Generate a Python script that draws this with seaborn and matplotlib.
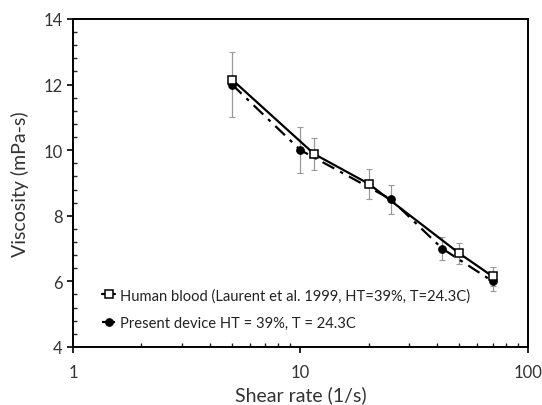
import matplotlib
matplotlib.use("Agg")
import matplotlib.pyplot as plt
import seaborn as sns
import numpy as np
import pandas as pd
from matplotlib.ticker import LogLocator, MultipleLocator, FixedLocator, FixedFormatter, NullFormatter

# Data
blood_rate = [5, 11.5, 20, 50, 70]
blood_visc = [12.15, 9.88, 8.97, 6.85, 6.15]
blood_err = [0.0, 0.5, 0.45, 0.33, 0.3]

device_rate = [5, 10, 25, 42, 70]
device_visc = [12.0, 10.0, 8.5, 7.0, 6.0]
device_err = [1.0, 0.7, 0.45, 0.35, 0.28]

blood_label = "Human blood (Laurent et al. 1999, HT=39%, T=24.3C)"
device_label = "Present device HT = 39%, T = 24.3C"

sns.set_style("white")
plt.rcParams['font.family'] = ['Lato', 'DejaVu Sans']

fig = plt.figure(figsize=(5.42, 4.06), dpi=100)
ax = fig.add_axes([0.1347, 0.1429, 0.974 - 0.1347, 0.951 - 0.1429])

# error bars
ax.errorbar(blood_rate, blood_visc, yerr=blood_err, fmt='none', ecolor='#999999',
            elinewidth=0.9, capsize=2, capthick=0.8, zorder=1)
ax.errorbar(device_rate, device_visc, yerr=device_err, fmt='none', ecolor='#999999',
            elinewidth=0.9, capsize=2, capthick=0.8, zorder=1)

dfb = pd.DataFrame({"rate": blood_rate, "visc": blood_visc})
dfd = pd.DataFrame({"rate": device_rate, "visc": device_visc})

sns.lineplot(data=dfb, x="rate", y="visc", ax=ax, color='black', linewidth=1.6,
             marker='s', markersize=5.5, markerfacecolor='white', markeredgecolor='black',
             markeredgewidth=1.1, label=blood_label, zorder=3)
sns.lineplot(data=dfd, x="rate", y="visc", ax=ax, color='black', linewidth=1.6,
             linestyle=(0, (6, 3, 1.5, 3)), marker='o', markersize=5.5,
             markerfacecolor='black', markeredgecolor='black', label=device_label, zorder=2)

ax.set_xscale('log')
ax.set_xlim(1, 100)
ax.set_ylim(4, 14)
ax.yaxis.set_major_locator(MultipleLocator(2))
ax.yaxis.set_minor_locator(MultipleLocator(0.4))
ax.xaxis.set_major_locator(FixedLocator([1, 10, 100]))
ax.xaxis.set_major_formatter(FixedFormatter(['1', '10', '100']))
ax.xaxis.set_minor_locator(LogLocator(base=10, subs=np.arange(2, 10)))
ax.xaxis.set_minor_formatter(NullFormatter())

ax.tick_params(axis='both', which='major', direction='out', length=4, width=1.2,
               labelsize=12, colors='black', labelcolor='#333333', bottom=True, left=True)
ax.tick_params(axis='x', which='major', pad=8)
ax.tick_params(axis='both', which='minor', direction='in', length=3, width=1.0,
               bottom=True, left=True)

for s in ax.spines.values():
    s.set_color('black')
    s.set_linewidth(1.4)

ax.set_xlabel("Shear rate (1/s)", fontsize=14, color='#333333', labelpad=4)
ax.set_ylabel("Viscosity (mPa-s)", fontsize=14, color='#333333', labelpad=10)

leg = ax.legend(loc='lower left', bbox_to_anchor=(0.035, 0.012), frameon=False, fontsize=10.6,
                handlelength=0.9, handletextpad=0.3, labelspacing=0.9, borderaxespad=0.5)
for t in leg.get_texts():
    t.set_color('#222222')

fig.savefig("out.png", dpi=100)
